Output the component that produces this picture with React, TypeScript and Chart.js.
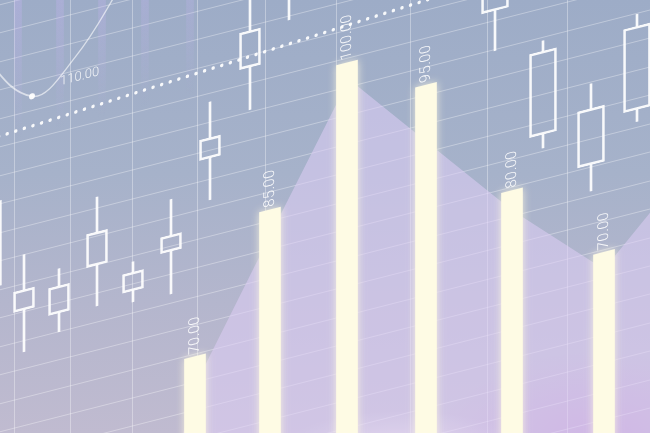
import React, { useEffect, useRef } from 'react';
import { Chart, registerables } from 'chart.js';

Chart.register(...registerables);

// ---- data ----
const barX = [195, 270, 347, 426, 512, 604];
const barValues = [70, 85, 100, 95, 80, 70];
const barLabels = ['70.00', '85.00', '100.00', '95.00', '80.00', '70.00'];

const areaX = [170, 195, 270, 349, 426, 512, 604, 700];
const areaValues = [55.5, 66.6, 82, 98, 88.4, 77.7, 68, 79];

const candleX = [-9, 24, 59, 97, 133, 171, 210, 250, 289, 495, 543, 591, 637];
const candleLow = [80.6, 75.7, 77.0, 78.9, 78.3, 78.1, 88.0, 97.4, 106.8, 97.0, 84.1, 77.6, 84.4];
const candleOpen = [84.2, 80.6, 79.2, 83.7, 79.6, 83.1, 92.9, 102.4, 109.7, 101.7, 85.7, 80.7, 85.8];
const candleClose = [94.2, 83.0, 82.4, 87.6, 81.8, 85.0, 95.3, 106.7, 113.9, 106.4, 95.5, 87.3, 95.6];
const candleHigh = [97.1, 87.1, 84.4, 91.7, 83.0, 89.2, 99.5, 111.5, 118.0, 110.0, 96.7, 90.2, 97.0];

const dottedX = [-10, 520];
const dottedValues = [101.7, 105.7];

const curveX = [-30, 32, 75, 125];
const curveValues = [114, 105.5, 108.8, 116.5];
const curveLabel = '110.00';

const stripeX = [18, 60, 102, 145, 190];
const stripeRange = [101, 125];

const xGrid = [14, 70, 132, 197, 265, 336, 410, 487, 567];
const yGrid = Array.from({ length: 22 }, (_, i) => (14 + i) * 3.35);

// ---- layout constants ----
const W = 650;
const H = 640;
const T = 100;
const K = 0.255;
const X0 = 346;
const Y_MAX = 100 + 163 / 8.5;
const Y_MIN = 100 - (H - 163) / 8.5;
const SPLIT_X = 400;

const GRID_COLOR = 'rgba(255,255,255,0.34)';
const WHITE = 'rgba(255,255,255,0.92)';

const pts = (xs: number[], ys: any[]) => xs.map((x, i) => ({ x, y: ys[i] }));

const shearPlugin = {
  id: 'shear',
  beforeDraw(chart: any) {
    const ctx = chart.ctx;
    ctx.save();
    ctx.transform(1, -K, 0, 1, 0, K * X0);
  },
  afterDraw(chart: any) {
    chart.ctx.restore();
  },
};

const glowPlugin = {
  id: 'glow',
  beforeDatasetDraw(chart: any, args: any) {
    if (args.meta && args.meta._dataset && args.meta._dataset.glow) {
      const ctx = chart.ctx;
      ctx.save();
      ctx.shadowColor = 'rgba(255,250,225,0.8)';
      ctx.shadowBlur = 8;
    }
  },
  afterDatasetDraw(chart: any, args: any) {
    if (args.meta && args.meta._dataset && args.meta._dataset.glow) {
      chart.ctx.restore();
    }
  },
};

const labelPlugin = {
  id: 'labels',
  afterDatasetsDraw(chart: any) {
    const ctx = chart.ctx;
    const barMeta = chart.getDatasetMeta(0);
    ctx.save();
    ctx.fillStyle = 'rgba(255,255,255,0.9)';
    ctx.font = '300 15px Roboto, "Liberation Sans", sans-serif';
    ctx.textAlign = 'left';
    ctx.textBaseline = 'middle';
    barMeta.data.forEach((el: any, i: number) => {
      ctx.save();
      ctx.translate(el.x, el.y - 3);
      ctx.rotate(-Math.PI / 2);
      ctx.fillText(barLabels[i], 0, 0);
      ctx.restore();
    });
    const curveMeta = chart.getDatasetMeta(chart.data.datasets.findIndex((d: any) => d.isCurve));
    const p = curveMeta.data[1];
    if (p) {
      ctx.font = '300 13px Roboto, "Liberation Sans", sans-serif';
      ctx.textBaseline = 'alphabetic';
      ctx.fillStyle = 'rgba(255,255,255,0.85)';
      ctx.fillText(curveLabel, p.x + 28, p.y - 4);
    }
    ctx.restore();
  },
};

export default function App() {
  const ref = useRef<HTMLCanvasElement>(null);

  useEffect(() => {
    if (!ref.current) return;
    const left = candleX.map((x) => x < SPLIT_X);
    const pick = (arr: any[], wantLeft: boolean) =>
      candleX.map((x, i) => ({ x, y: arr[i] })).filter((_, i) => left[i] === wantLeft);
    const bodies = candleX.map((_, i) => [Math.min(candleOpen[i], candleClose[i]), Math.max(candleOpen[i], candleClose[i])]);
    const lowWicks = candleX.map((_, i) => [candleLow[i], bodies[i][0]]);
    const highWicks = candleX.map((_, i) => [bodies[i][1], candleHigh[i]]);

    const chart = new Chart(ref.current, {
      type: 'bar',
      data: {
        datasets: [
          {
            type: 'bar',
            data: pts(barX, barValues),
            backgroundColor: '#fefbe4',
            borderWidth: 0,
            barThickness: 21,
            grouped: false,
            order: 1,
            glow: true,
          } as any,
          {
            type: 'line',
            data: pts(areaX, areaValues),
            fill: 'start',
            backgroundColor: 'rgba(222,206,245,0.55)',
            borderWidth: 0,
            borderColor: 'rgba(0,0,0,0)',
            pointRadius: 0,
            tension: 0,
            order: 10,
          },
          {
            type: 'bar',
            data: stripeX.map((x) => ({ x, y: stripeRange })),
            backgroundColor: (c: any) => {
              const ch = c.chart;
              if (!ch.chartArea || !ch.scales.y) return 'rgba(190,180,235,0.25)';
              const y = ch.scales.y;
              const g = ch.ctx.createLinearGradient(0, y.getPixelForValue(stripeRange[1]), 0, y.getPixelForValue(stripeRange[0]));
              g.addColorStop(0, 'rgba(195,180,240,0.55)');
              g.addColorStop(1, 'rgba(195,180,240,0)');
              return g;
            },
            borderWidth: 0,
            barThickness: 7,
            grouped: false,
            order: 11,
          },
          {
            type: 'bar',
            data: pick(bodies, true),
            backgroundColor: 'rgba(255,255,255,0)',
            borderColor: WHITE,
            borderWidth: 2,
            borderSkipped: false,
            barThickness: 21,
            grouped: false,
            order: 5,
          },
          {
            type: 'bar',
            data: pick(bodies, false),
            backgroundColor: 'rgba(255,255,255,0)',
            borderColor: WHITE,
            borderWidth: 2,
            borderSkipped: false,
            barThickness: 27,
            grouped: false,
            order: 5,
          },
          {
            type: 'bar',
            data: candleX.map((x, i) => ({ x, y: lowWicks[i] })),
            backgroundColor: WHITE,
            borderWidth: 0,
            barThickness: 2,
            grouped: false,
            order: 6,
          },
          {
            type: 'bar',
            data: candleX.map((x, i) => ({ x, y: highWicks[i] })),
            backgroundColor: WHITE,
            borderWidth: 0,
            barThickness: 2,
            grouped: false,
            order: 6,
          },
          {
            type: 'line',
            data: pts(dottedX, dottedValues),
            borderColor: 'rgba(255,255,255,0.92)',
            borderWidth: 3.5,
            borderDash: [0, 8.6],
            borderCapStyle: 'round',
            pointRadius: 0,
            fill: false,
            order: 4,
          },
          {
            type: 'line',
            data: pts(curveX, curveValues),
            borderColor: 'rgba(255,255,255,0.6)',
            borderWidth: 1.5,
            tension: 0.4,
            pointRadius: [0, 3, 0, 0],
            pointBackgroundColor: 'rgba(255,255,255,0.95)',
            pointBorderWidth: 0,
            fill: false,
            order: 4,
            isCurve: true,
          } as any,
        ],
      },
      options: {
        responsive: false,
        animation: false,
        events: [],
        layout: { padding: 0 },
        plugins: { legend: { display: false }, tooltip: { enabled: false } },
        scales: {
          x: {
            type: 'linear',
            min: 0,
            max: W,
            offset: false,
            grid: { offset: false, color: GRID_COLOR, lineWidth: 1, drawTicks: false },
            border: { display: false },
            ticks: { display: false },
            afterBuildTicks: (ax: any) => {
              ax.ticks = xGrid.map((v) => ({ value: v }));
            },
          },
          y: {
            type: 'linear',
            min: Y_MIN,
            max: Y_MAX,
            grid: { color: GRID_COLOR, lineWidth: 1, drawTicks: false },
            border: { display: false },
            ticks: { display: false },
            afterBuildTicks: (ax: any) => {
              ax.ticks = yGrid.map((v) => ({ value: v }));
            },
          },
        },
      } as any,
      plugins: [shearPlugin, glowPlugin, labelPlugin],
    });
    return () => chart.destroy();
  }, []);

  return (
    <div
      style={{
        position: 'fixed',
        left: 0,
        top: 0,
        width: W,
        height: 433,
        overflow: 'hidden',
        background:
          'radial-gradient(ellipse 160px 90px at 92% 102%, rgba(190,145,210,0.75), rgba(190,145,210,0) 100%),' +
          'radial-gradient(ellipse 120px 40px at 62% 104%, rgba(255,250,245,0.6), rgba(255,250,245,0) 100%),' +
          'linear-gradient(180deg, #9dacc7 0%, #a6b2ca 40%, #b4b6cd 70%, #c0bbd0 100%)',
      }}
    >
      <canvas
        ref={ref}
        width={W}
        height={H}
        style={{ position: 'absolute', left: 0, top: -T, display: 'block', filter: 'blur(0.4px)' }}
      />
    </div>
  );
}
